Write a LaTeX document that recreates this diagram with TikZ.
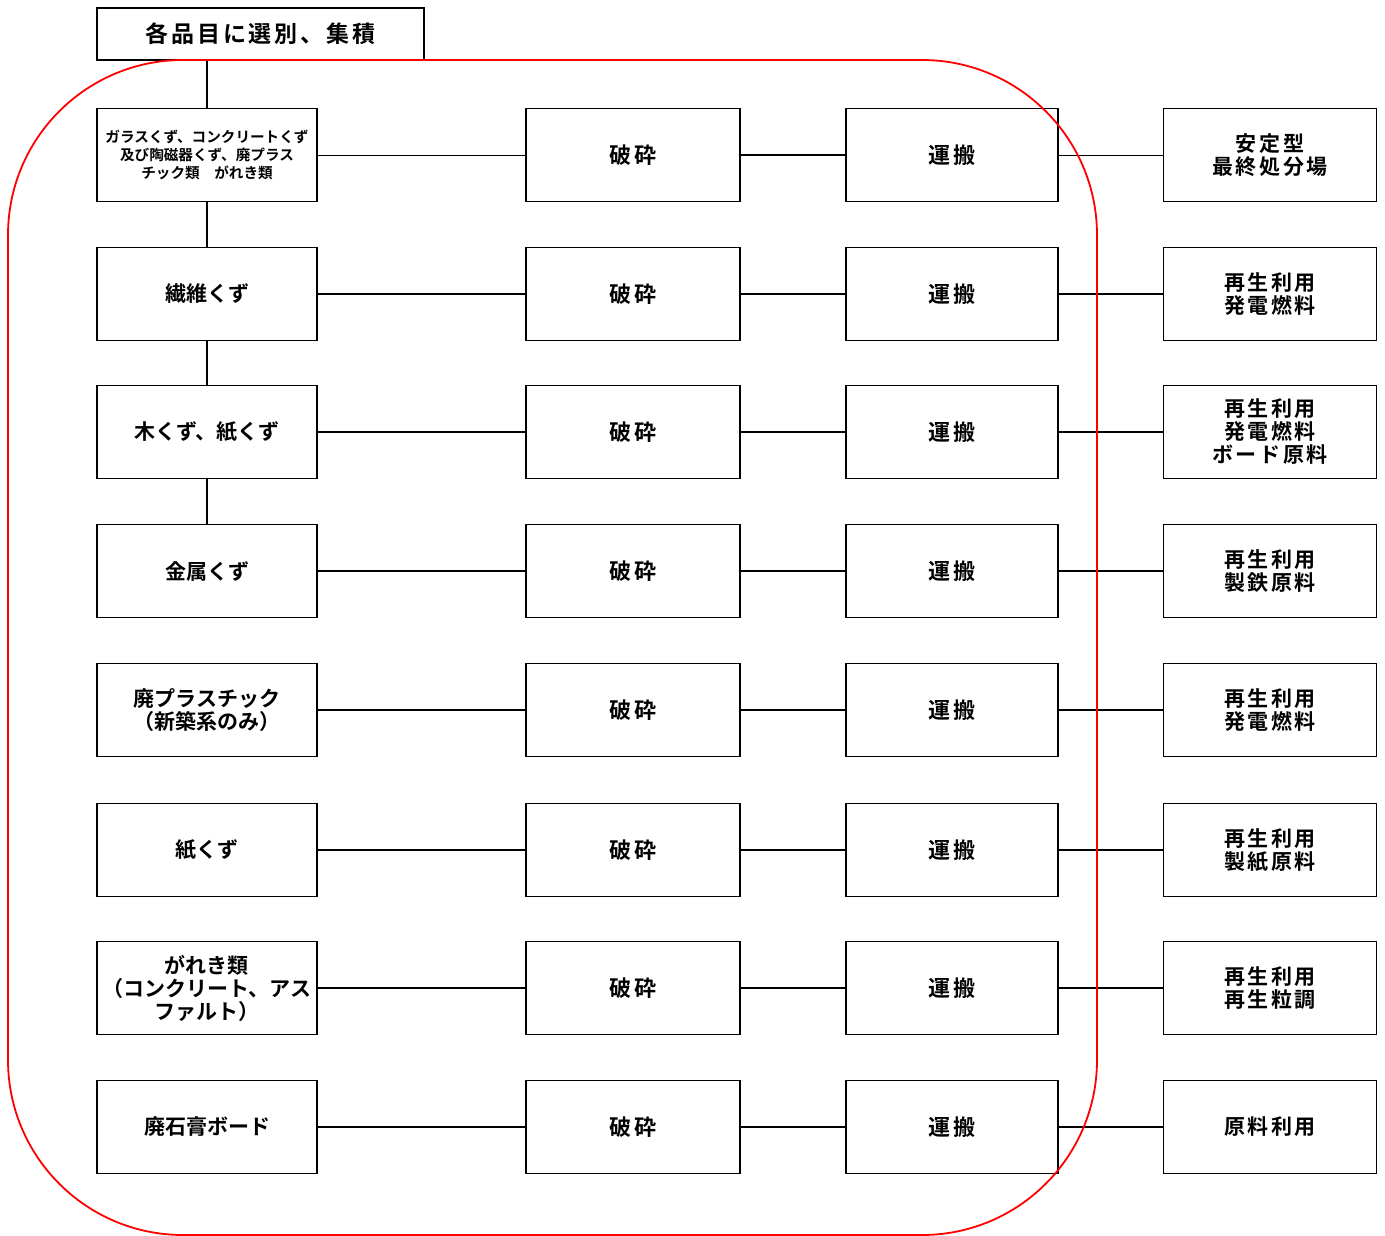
\documentclass[tikz,border=0pt]{standalone}
\usepackage{fontspec}
\newfontfamily\jpfont{Noto Sans CJK JP}[BoldFont={Noto Sans CJK JP Bold}]
\newfontfamily\jpwide{Noto Sans CJK JP}[BoldFont={Noto Sans CJK JP Bold}, BoldFeatures={LetterSpace=12}]

\tikzset{
  item/.style={draw, line width=1.8pt, minimum height=93pt, inner sep=2pt,
    align=center, font=\jpfont\bfseries\fontsize{21}{23}\selectfont},
  srcbox/.style={item, minimum width=220pt},
  crushbox/.style={item, minimum width=214pt, font=\jpwide\bfseries\fontsize{22}{23}\selectfont},
  carrybox/.style={item, minimum width=212pt, font=\jpwide\bfseries\fontsize{22}{23}\selectfont},
  dstbox/.style={item, minimum width=213pt, font=\jpwide\bfseries\fontsize{21}{23}\selectfont},
  link/.style={line width=1.4pt},
}

\begin{document}
\begin{tikzpicture}[x=1pt,y=-1pt]
  \useasboundingbox (0,0) rectangle (1385,1236);

  \node[item, minimum width=327pt, minimum height=52pt,
    font=\jpwide\bfseries\fontsize{23}{26}\selectfont] (top) at (260.5,34) {各品目に選別、集積};

  % first row
  \node[srcbox, font=\jpfont\bfseries\fontsize{14.6}{18}\selectfont] (a1) at (207,155)
    {ガラスくず、コンクリートくず\\及び陶磁器くず、廃プラス\\チック類　がれき類};
  \node[crushbox] (b1) at (633,155) {破砕};
  \node[carrybox] (c1) at (952,155) {運搬};
  \node[dstbox] (d1) at (1270,155) {安定型\\最終処分場};

  % other rows
  \foreach \i/\y/\src/\dst in {
      2/294/{繊維くず}/{再生利用\\発電燃料},
      3/432/{木くず、紙くず}/{再生利用\\発電燃料\\ボード原料},
      4/571/{金属くず}/{再生利用\\製鉄原料},
      5/710/{廃プラスチック\\（新築系のみ）}/{再生利用\\発電燃料},
      6/850/{紙くず}/{再生利用\\製紙原料},
      7/988/{がれき類\\（コンクリート、アス\\ファルト）}/{再生利用\\再生粒調},
      8/1127/{廃石膏ボード}/{原料利用}} {
    \node[srcbox] (a\i) at (207,\y) {\src};
    \node[crushbox] (b\i) at (633,\y) {破砕};
    \node[carrybox] (c\i) at (952,\y) {運搬};
    \node[dstbox] (d\i) at (1270,\y) {\dst};
  }

  \draw[line width=0.9pt] (a1) -- (b1) (c1) -- (d1);
  \draw[link] (b1) -- (c1);
  \foreach \i in {2,...,8}
    \draw[link] (a\i) -- (b\i) -- (c\i) -- (d\i);

  \draw[link] (a1.north |- top.south) -- (a1.north);
  \draw[link] (a1) -- (a2);
  \draw[link] (a2) -- (a3);
  \draw[link] (a3) -- (a4);

  \draw[red, line width=1.8pt, rounded corners=175pt] (8,60) rectangle (1097,1235);
\end{tikzpicture}
\end{document}
